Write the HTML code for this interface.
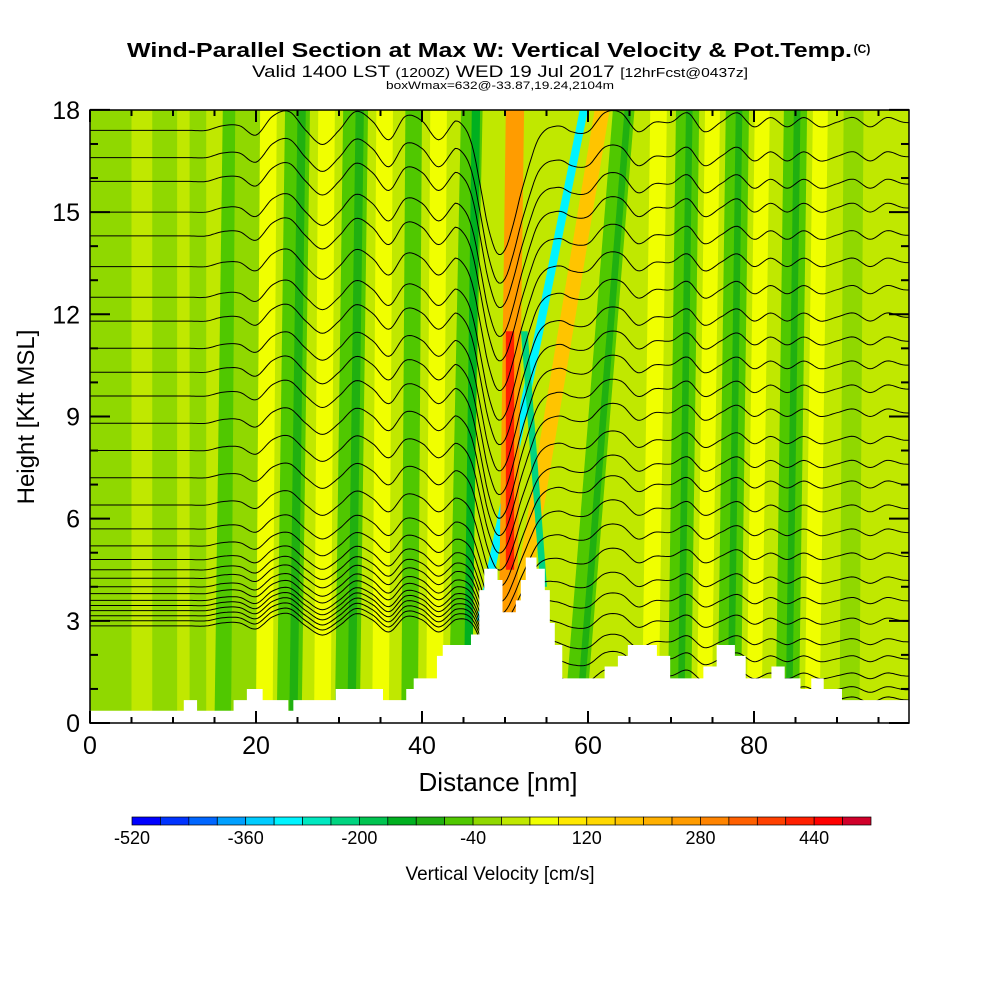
<!DOCTYPE html>
<html><head><meta charset="utf-8">
<style>
body{margin:0;background:#fff;width:1000px;height:1000px;overflow:hidden;font-family:"Liberation Sans",sans-serif}
svg{position:absolute;left:0;top:0}
</style></head>
<body>
<svg id="chart" width="1000" height="1000" viewBox="0 0 1000 1000">
<defs><clipPath id="pc"><rect x="90" y="110" width="819" height="613"/></clipPath></defs>
<g>
<text x="127" y="57" font-size="20" font-weight="bold" textLength="725" lengthAdjust="spacingAndGlyphs">Wind-Parallel Section at Max W: Vertical Velocity &amp; Pot.Temp.</text>
<text x="862" y="53" text-anchor="middle" font-size="12" font-weight="bold">(C)</text>
<text x="252" y="77" font-size="17" textLength="496" lengthAdjust="spacingAndGlyphs">Valid 1400 LST <tspan font-size="13">(1200Z)</tspan> WED 19 Jul 2017 <tspan font-size="13">[12hrFcst@0437z]</tspan></text>
<text x="386" y="89" font-size="11" textLength="228" lengthAdjust="spacingAndGlyphs">boxWmax=632@-33.87,19.24,2104m</text>
</g>
<g id="field" clip-path="url(#pc)"></g>
<g id="contours" clip-path="url(#pc)"></g>
<g id="terrain" clip-path="url(#pc)"></g>
<g id="axes"></g>
<text x="498" y="791" text-anchor="middle" font-size="26">Distance [nm]</text>
<text transform="translate(34,417) rotate(-90)" text-anchor="middle" font-size="24">Height [Kft MSL]</text>
<g id="cbar"></g>
<text x="500" y="880" text-anchor="middle" font-size="19">Vertical Velocity [cm/s]</text>
</svg>
<script>
// ---- data ----
const binColors=["#0000ff","#0033ff","#0066ff","#00a0ff","#00ccff","#00f4ff","#00e8c0","#00d480","#00c450","#00b020","#20b010","#50c800","#90d800","#c0e800","#f0ff00","#ffe800","#ffd800","#ffc400","#ffb000","#ff9c00","#ff8400","#ff6000","#ff4000","#ff2000","#ff0000","#d0002a"];
const cbarTicks=[-520,-360,-200,-40,120,280,440];
const xTicks=[0,20,40,60,80];
const yTicks=[0,3,6,9,12,15,18];
// stripes: bottom x (nm at 0 kft), top x (nm at 18 kft), half-width nm, w value, height range
const stripeX0=[2,9,13,16,18.5,21,24,24.5,28,31,31.5,35,38.5,41.5,44.5,45.5,49.5,58.4,58.9,44.6,55.9,50.2,50.6,67.5,71,71.2,74,77,77.2,80,84,84.2,87,91.5,96];
const stripeX1=[2,9,13,17,19,21.5,25,25.5,28.5,32,32.5,35.5,39,42,46,46.5,61.7,64.3,64.8,59.5,50.3,51.2,50.6,68.5,72,72.2,75,78,78.2,81,85,85.2,88,92,96];
const stripeHW=[3,1.5,1,1,1.5,1.0,1.5,0.5,1.0,1.5,0.5,1.0,1,1.0,1.3,0.5,0.9,1.3,0.4,0.5,0.4,1.1,0.5,1.0,1.4,0.4,0.9,1.4,0.4,0.9,1.4,0.4,0.9,1.2,1.5];
const stripeVal=[-20,-20,-20,-60,-20,60,-60,-100,60,-60,-100,60,-60,60,-60,-160,180,-60,-110,-300,-240,260,430,60,-60,-100,60,-60,-100,60,-60,-100,60,-30,20];
const stripeLo=[0,0,0,0,0,0,0,0,0,0,0,0,0,0,0,0,0,0,0,3,4,0,4.5,0,0,0,0,0,0,0,0,0,0,0,0];
const stripeHi=[18,18,18,18,18,18,18,18,18,18,18,18,18,18,18,18,18,18,18,18,11.5,18,11.5,18,18,18,18,18,18,18,18,18,18,18,18];
// terrain step profile
const terrainEdges=[0,11.3,12.9,17.3,18.9,20.8,23.9,24.5,29.6,35.3,38.1,39.0,41.8,42.5,45.9,46.9,47.5,49.1,49.7,51.3,51.9,52.5,53.8,54.8,55.4,56.0,56.9,62.0,63.6,64.8,68.3,69.9,73.9,75.5,77.7,79.0,82.1,83.7,85.6,86.9,88.4,90.6,98.7];
const terrainH=[0.36,0.67,0.36,0.67,1.0,0.67,0.36,0.67,1.0,0.67,1.0,1.31,1.97,2.29,2.6,3.9,4.53,4.2,3.25,3.6,4.2,4.86,4.53,3.9,2.94,2.29,1.31,1.66,1.97,2.29,1.97,1.31,1.66,2.29,1.97,1.31,1.66,1.31,1.0,1.31,1.0,0.67];
// theta contour levels: height at left and right edges (kft)
const levelLeftH=[17.4,16.6,15.9,15.0,14.3,13.4,12.5,11.8,11.0,10.3,9.6,8.8,8.0,7.2,6.4,5.7,5.2,4.8,4.5,4.25,4.0,3.8,3.6,3.45,3.3,3.15,3.0,2.85];
const levelRightH=[17.5,16.5,15.7,15.0,14.2,13.4,12.6,11.8,11.1,10.4,9.7,9.0,8.2,7.5,6.9,6.2,5.5,4.8,4.1,3.5,2.9,2.3,1.8,1.3,0.9,0.6,0.4,0.2];
// wave displacement (kft) sampled every 2 nm
const waveDisp=[0,0,0,0,0,0,0,0,0.1,0.1,-0.1,0.3,0.4,0,-0.3,0,0.4,0.2,-0.2,0.3,0.2,-0.2,0.2,0.4,0,-0.3,-0.2,0.1,0.1,-0.1,-0.1,0.3,0.3,-0.1,0.1,0.1,0.3,-0.1,0.1,0.3,0,0.2,0,0.2,0,0.1,0.2,0,0.2,0.1];
// central plunge (kft at 10 kft level) sampled every 1 nm from 44 to 58
const dipDisp=[0,-0.3,-0.8,-1.6,-2.4,-2.8,-2.6,-2.0,-1.3,-0.8,-0.4,-0.2,-0.1,0,0];

// ---- scales ----
const NS="http://www.w3.org/2000/svg";
const X=nm=>90+nm*8.3;
const Y=k=>723-k*34.06;
const colorOf=v=>binColors[Math.max(0,Math.min(25,Math.floor((v+520)/40)))];
function mk(tag,attrs,parent){const e=document.createElementNS(NS,tag);for(const k in attrs)e.setAttribute(k,attrs[k]);parent.appendChild(e);return e;}

// field
const field=document.getElementById('field');
const bg=mk('rect',{x:90,y:110,width:819,height:613,fill:colorOf(20)},field);


for(let i=0;i<stripeVal.length;i++){
  const lo=stripeLo[i],hi=stripeHi[i];
  const cx=k=>stripeX0[i]+(stripeX1[i]-stripeX0[i])*k/18;
  const pts=[[cx(lo)-stripeHW[i],lo],[cx(hi)-stripeHW[i],hi],[cx(hi)+stripeHW[i],hi],[cx(lo)+stripeHW[i],lo]].map(p=>X(p[0])+','+Y(p[1])).join(' ');
  const p=mk('polygon',{points:pts,fill:colorOf(stripeVal[i])},field);
  
  
}
// contours (Catmull-Rom interpolation)
function crIdx(arr,f){const n=arr.length;const g=k=>arr[Math.max(0,Math.min(n-1,k))];const i=Math.floor(f),t=f-i;
  const p0=g(i-1),p1=g(i),p2=g(i+1),p3=g(i+2);
  return 0.5*((2*p1)+(-p0+p2)*t+(2*p0-5*p1+4*p2-p3)*t*t+(-p0+3*p1-3*p2+p3)*t*t*t);}
function waveAt(x){return crIdx(waveDisp,x/2);}
function dipAt(x){if(x<44||x>58)return 0;return crIdx(dipDisp,x-44);}
const cont=document.getElementById('contours');
for(let j=0;j<levelLeftH.length;j++){
  let d='';
  for(let x=0;x<=99;x+=0.25){
    let s=(x-46)/11;s=Math.max(0,Math.min(1,s));s=s*s*(3-2*s);
    const base=levelLeftH[j]+(levelRightH[j]-levelLeftH[j])*s;
    const h=base+waveAt(x)*(0.8+base/30)+dipAt(x)*Math.min(1.2,base/8);
    d+=(x===0?'M':'L')+X(x).toFixed(1)+','+Y(h).toFixed(1);
  }
  const p=mk('path',{d:d,fill:'none',stroke:'#000','stroke-width':1},cont);
  
  
}
// terrain
let td='M'+X(0)+','+Y(0);
for(let i=0;i<terrainH.length;i++){td+='L'+X(terrainEdges[i])+','+Y(terrainH[i])+'L'+X(terrainEdges[i+1])+','+Y(terrainH[i]);}
td+='L'+X(terrainEdges[terrainEdges.length-1])+','+Y(0)+'Z';
const tp=mk('path',{d:td,fill:'#fff',stroke:'none'},document.getElementById('terrain'));


// axes
const ax=document.getElementById('axes');
const fr=mk('rect',{x:90,y:110,width:819,height:613,fill:'none',stroke:'#000','stroke-width':1.5},ax);


for(let n=0;n<=95;n+=5){const L=(n%20===0)?12:6;
  mk('line',{x1:X(n),x2:X(n),y1:723,y2:723-L,stroke:'#000','stroke-width':2},ax);
  mk('line',{x1:X(n),x2:X(n),y1:110,y2:110+L,stroke:'#000','stroke-width':2},ax);}
for(let k=0;k<=18;k++){const L=(k%3===0)?20:8;
  mk('line',{x1:90,x2:90+L,y1:Y(k),y2:Y(k),stroke:'#000','stroke-width':2},ax);
  mk('line',{x1:909,x2:909-L,y1:Y(k),y2:Y(k),stroke:'#000','stroke-width':2},ax);}
xTicks.forEach(v=>{const t=mk('text',{x:X(v),y:754,'text-anchor':'middle','font-size':25},ax);t.textContent=v;
  
  });
yTicks.forEach(v=>{const t=mk('text',{x:80,y:Y(v)+9,'text-anchor':'end','font-size':25},ax);t.textContent=v;
  
  });
// colorbar
const cb=document.getElementById('cbar');
const bw=(871-132)/26;
binColors.forEach((c,i)=>{const r=mk('rect',{x:132+i*bw,y:817,width:bw,height:8,fill:c,stroke:'#000','stroke-width':0.7},cb);
  
  });
cbarTicks.forEach(v=>{const t=mk('text',{x:132+(v+520)/40*bw,y:844,'text-anchor':'middle','font-size':18},cb);t.textContent=v;
  
  });
</script>
</body></html>
